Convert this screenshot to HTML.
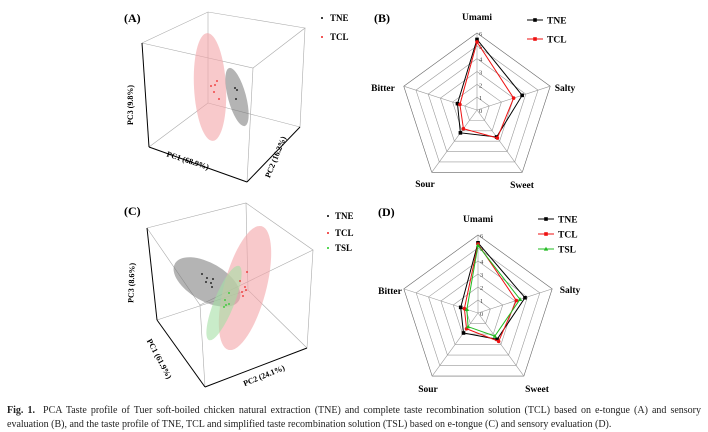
<!DOCTYPE html>
<html><head><meta charset="utf-8">
<style>
body{margin:0;background:#fff;width:708px;height:432px;overflow:hidden;font-family:"Liberation Serif",serif;}
svg{position:absolute;left:0;top:0}
.cap{position:absolute;left:7px;top:404px;width:694px;font-size:10px;line-height:14px;text-align:justify;color:#222;text-align-last:left;white-space:nowrap}
.cap .l1{display:block;text-align:justify;text-align-last:justify;white-space:normal}
</style></head>
<body>
<svg id="fig" width="708" height="400" viewBox="0 0 708 400">
<g font-family="Liberation Serif, serif" font-weight="bold">
<!-- Panel A -->
<g>
<text x="124" y="22" font-size="12">(A)</text>
<g stroke="#aaa" stroke-width="0.6" fill="none">
<polyline points="142,43 208,12 305,28 253,68 142,43"/>
<line x1="253" y1="68" x2="247" y2="182"/>
<line x1="305" y1="28" x2="300" y2="127"/>
<line x1="208" y1="12" x2="208" y2="103"/>
<line x1="208" y1="103" x2="149" y2="147"/>
<line x1="208" y1="103" x2="300" y2="127"/>
</g>
<g stroke="#000" stroke-width="1" fill="none">
<line x1="142" y1="43" x2="149" y2="147"/>
<line x1="149" y1="147" x2="247" y2="182"/>
<line x1="247" y1="182" x2="300" y2="127"/>
</g>
<ellipse cx="210" cy="87" rx="16" ry="54" transform="rotate(-3 210 87)" fill="#f4a5a8" opacity="0.6"/>
<ellipse cx="237" cy="97" rx="9" ry="30" transform="rotate(-15 237 97)" fill="#777" opacity="0.55"/>
<g fill="#e22"><circle cx="211" cy="86" r="0.9"/><circle cx="217" cy="81" r="0.9"/><circle cx="215" cy="85" r="0.9"/><circle cx="214" cy="92" r="0.9"/><circle cx="219" cy="99" r="0.9"/></g>
<g fill="#000"><circle cx="235" cy="88" r="0.9"/><circle cx="237" cy="90" r="0.9"/><circle cx="236" cy="99" r="0.9"/></g>
<text font-size="8" transform="translate(133,105) rotate(-90)" text-anchor="middle">PC3 (9.8%)</text>
<text font-size="8" transform="translate(187,163) rotate(18)" text-anchor="middle">PC1 (68.9%)</text>
<text font-size="8" transform="translate(278,158) rotate(-68)" text-anchor="middle">PC2 (16.2%)</text>
<circle cx="322" cy="18" r="1" fill="#000"/><text x="330" y="21" font-size="9">TNE</text>
<circle cx="322" cy="37" r="1" fill="#e22"/><text x="330" y="40" font-size="9">TCL</text>
</g>
<!-- Panel C -->
<g>
<text x="124" y="215" font-size="12">(C)</text>
<g stroke="#aaa" stroke-width="0.6" fill="none">
<polyline points="147,228 246,203 313,250 200,305 147,228"/>
<line x1="200" y1="305" x2="205" y2="387"/>
<line x1="313" y1="250" x2="307" y2="348"/>
<line x1="246" y1="203" x2="248" y2="290"/>
<line x1="248" y1="290" x2="157" y2="320"/>
<line x1="248" y1="290" x2="307" y2="348"/>
</g>
<g stroke="#000" stroke-width="1" fill="none">
<line x1="147" y1="228" x2="157" y2="320"/>
<line x1="157" y1="320" x2="205" y2="387"/>
<line x1="205" y1="387" x2="307" y2="348"/>
</g>
<ellipse cx="207" cy="282" rx="37" ry="19" transform="rotate(30 207 282)" fill="#777" opacity="0.55"/>
<ellipse cx="245" cy="288" rx="21" ry="64" transform="rotate(15 245 288)" fill="#f4a5a8" opacity="0.6"/>
<ellipse cx="224" cy="303" rx="10" ry="40" transform="rotate(22 224 303)" fill="#a5e0a5" opacity="0.6"/>
<g fill="#000"><circle cx="202" cy="274" r="0.9"/><circle cx="207" cy="278" r="0.9"/><circle cx="213" cy="279" r="0.9"/><circle cx="206" cy="282" r="0.9"/><circle cx="211" cy="283" r="0.9"/><circle cx="212" cy="287" r="0.9"/></g>
<g fill="#e22"><circle cx="247" cy="272" r="0.9"/><circle cx="240" cy="281" r="0.9"/><circle cx="245" cy="287" r="0.9"/><circle cx="242" cy="292" r="0.9"/><circle cx="246" cy="290" r="0.9"/><circle cx="243" cy="296" r="0.9"/></g>
<g fill="#2c2"><circle cx="229" cy="293" r="0.9"/><circle cx="225" cy="300" r="0.9"/><circle cx="229" cy="304" r="0.9"/><circle cx="226" cy="305" r="0.9"/><circle cx="224" cy="307" r="0.9"/></g>
<text font-size="8" transform="translate(134,283) rotate(-88)" text-anchor="middle">PC3 (8.6%)</text>
<text font-size="8" transform="translate(157,360) rotate(62)" text-anchor="middle">PC1 (61.9%)</text>
<text font-size="8" transform="translate(265,378) rotate(-22)" text-anchor="middle">PC2 (24.1%)</text>
<circle cx="328" cy="216" r="1" fill="#000"/><text x="335" y="219" font-size="9">TNE</text>
<circle cx="328" cy="233" r="1" fill="#e22"/><text x="335" y="236" font-size="9">TCL</text>
<circle cx="328" cy="248" r="1" fill="#2c2"/><text x="335" y="251" font-size="9">TSL</text>
</g>
<g id="radarB"><text x="374" y="22" font-size="12">(B)</text></g>
<g id="radarD"><text x="378" y="216" font-size="12">(D)</text></g>
</g>
</svg>
<div class="cap"><span class="l1"><b>Fig. 1.</b>&nbsp; PCA Taste profile of Tuer soft-boiled chicken natural extraction (TNE) and complete taste recombination solution (TCL) based on e-tongue (A) and sensory</span>evaluation (B), and the taste profile of TNE, TCL and simplified taste recombination solution (TSL) based on e-tongue (C) and sensory evaluation (D).</div>
<script>
const axesNames = ['Umami','Salty','Sweet','Sour','Bitter'];
const ticks = [0,1,2,3,4,5,6];
const bTNE = [5.5,3.7,2.6,2.2,1.6];
const bTCL = [5.3,3.0,2.7,1.8,1.4];
const dTNE = [5.4,3.8,2.5,1.9,1.4];
const dTCL = [5.3,3.1,2.7,1.5,1.1];
const dTSL = [5.2,3.4,2.2,1.3,0.9];
const NS='http://www.w3.org/2000/svg';
function mk(parent,tag,attrs){const e=document.createElementNS(NS,tag);for(const k in attrs)e.setAttribute(k,attrs[k]);parent.appendChild(e);return e;}
function radar(g,cx,cy,R,series,legendX,legendY,labelPos){
  const max=6;
  const pt=(i,v)=>{const a=-Math.PI/2+i*2*Math.PI/5;return [cx+Math.cos(a)*R*v/max,cy+Math.sin(a)*R*v/max];};
  for(let t=1;t<=max;t++){
    const p=axesNames.map((_,i)=>pt(i,t).join(',')).join(' ');
    const poly=mk(g,'polygon',{points:p,fill:'none',stroke:t===max?'#666':'#999','stroke-width':0.6});
    
    
  }
  axesNames.forEach((n,i)=>{const [x,y]=pt(i,max);mk(g,'line',{x1:cx,y1:cy,x2:x,y2:y,stroke:'#999','stroke-width':0.6});});
  ticks.forEach(t=>{const [x,y]=pt(0,t);const tx=mk(g,'text',{x:x+2,y:y+3,'font-size':6.5,'font-weight':'normal',fill:'#444'});tx.textContent=t;
    
    });
  axesNames.forEach((n,i)=>{const tx=mk(g,'text',{x:labelPos[i][0],y:labelPos[i][1],'font-size':9.5,'text-anchor':'middle'});tx.textContent=n;
    
    });
  series.forEach((s,k)=>{
    const pts=s.vals.map((v,i)=>pt(i,v));
    const pl=mk(g,'polygon',{points:pts.map(p=>p.join(',')).join(' '),fill:'none',stroke:s.color,'stroke-width':1});
    
    
    pts.forEach(p=>{
      let m;
      if(s.marker==='tri') m=mk(g,'polygon',{points:`${p[0]},${p[1]-2.2} ${p[0]-2.2},${p[1]+1.6} ${p[0]+2.2},${p[1]+1.6}`,fill:s.color});
      else if(s.marker==='circ') m=mk(g,'circle',{cx:p[0],cy:p[1],r:1.8,fill:s.color});
      else m=mk(g,'rect',{x:p[0]-1.8,y:p[1]-1.8,width:3.6,height:3.6,fill:s.color});
      
      
    });
    const ly=legendY+k*(legendX.dy);
    mk(g,'line',{x1:legendX.x,y1:ly,x2:legendX.x+16,y2:ly,stroke:s.color,'stroke-width':1});
    if(s.marker==='tri') mk(g,'polygon',{points:`${legendX.x+8},${ly-2.2} ${legendX.x+5.8},${ly+1.6} ${legendX.x+10.2},${ly+1.6}`,fill:s.color});
    else mk(g,'rect',{x:legendX.x+6.2,y:ly-1.8,width:3.6,height:3.6,fill:s.color});
    const lt=mk(g,'text',{x:legendX.x+20,y:ly+3.5,'font-size':9.5});lt.textContent=s.name;
    
    
  });
}
radar(document.getElementById('radarB'),477,110,77,
 [{name:'TNE',vals:bTNE,color:'#000',marker:'sq'},{name:'TCL',vals:bTCL,color:'#e11',marker:'circ'}],
 {x:527,dy:19},20,[[477,20],[565,91],[522,188],[425,187],[383,91]]);
radar(document.getElementById('radarD'),478,313,78,
 [{name:'TNE',vals:dTNE,color:'#000',marker:'sq'},{name:'TCL',vals:dTCL,color:'#e11',marker:'circ'},{name:'TSL',vals:dTSL,color:'#2b2',marker:'tri'}],
 {x:538,dy:15},219,[[478,222],[570,293],[537,392],[428,392],[390,294]]);
</script>
</body></html>
